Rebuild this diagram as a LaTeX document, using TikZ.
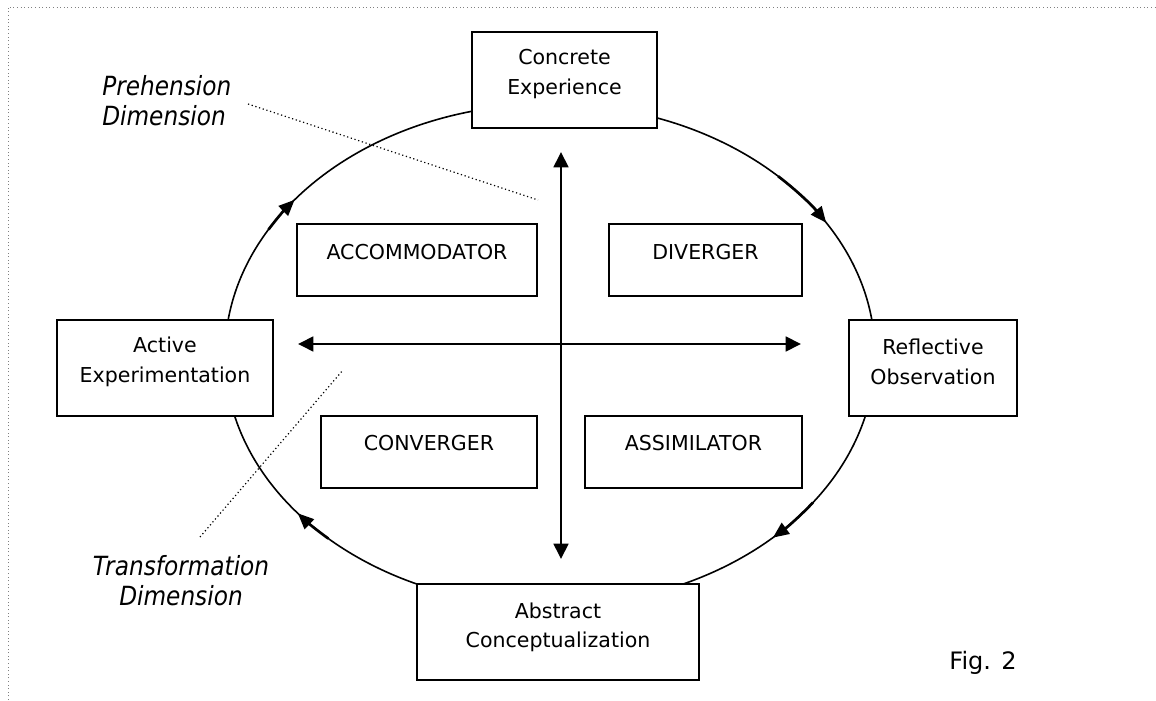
\documentclass[tikz,border=0pt]{standalone}
\usepackage{fontspec}
\setmainfont{DejaVu Sans}
\newfontfamily\dimfont[FakeStretch=0.88]{DejaVu Sans}
\usetikzlibrary{arrows.meta,calc}
\begin{document}
\begin{tikzpicture}[x=0.75pt,y=0.75pt,
  box/.style={draw=black, line width=1.2pt, fill=white, inner sep=0pt},
  boxtext/.style={font=\fontsize{15.4}{22}\selectfont, align=center, inner sep=0pt},
  axisline/.style={line width=2pt, {Triangle[length=11.5pt,width=11pt]}-{Triangle[length=11.5pt,width=11pt]}},
  cyc/.style={line width=1.2pt},
  cycarrow/.style={line width=2pt, -{Triangle[length=12pt,width=10pt]}},
  leader/.style={line width=0.9pt, dotted},
  dimlabel/.style={font=\dimfont\itshape\fontsize{19.8}{22.5}\selectfont, inner sep=0pt},
  figlabel/.style={font=\fontsize{18}{22}\selectfont, inner sep=0pt}
]
\useasboundingbox (0,0) rectangle (1156,700);
% frame
\draw[gray, line width=0.7pt, dotted] (8,0) -- (8,693) -- (1156,693);

% cycle ellipse
\coordinate (E) at (550,345);
\draw[cyc] (E) ellipse [x radius=243.75pt, y radius=188.25pt];
\draw[cycarrow] ($(E)+({325*cos(150)},{251*sin(150)})$) arc [start angle=150, end angle=141.8, x radius=243.75pt, y radius=188.25pt];
\draw[cycarrow] ($(E)+({325*cos(45.4)},{251*sin(45.4)})$) arc [start angle=45.4, end angle=31.8, x radius=243.75pt, y radius=188.25pt];
\draw[cycarrow] ($(E)+({325*cos(-36)},{251*sin(-36)})$) arc [start angle=-36, end angle=-46.7, x radius=243.75pt, y radius=188.25pt];
\draw[cycarrow] ($(E)+({325*cos(-133)},{251*sin(-133)})$) arc [start angle=-133, end angle=-140.9, x radius=243.75pt, y radius=188.25pt];

% mode boxes
\node[box, minimum width=138.75pt, minimum height=72pt] (ce) at (564.5,620) {};
\node[boxtext] (ceT) at (564.5,626) {Concrete\\Experience};
\node[box, minimum width=162pt, minimum height=72pt] (ae) at (165,332) {};
\node[boxtext] (aeT) at (165,338) {Active\\Experimentation};
\node[box, minimum width=126pt, minimum height=72pt] (ro) at (933,332) {};
\node[boxtext] (roT) at (933,338) {Reflective\\Observation};
\node[box, minimum width=211.5pt, minimum height=72pt] (ac) at (558,68) {};
\node[boxtext] (acT) at (558,73) {Abstract\\Conceptualization};

% style boxes
\node[box, minimum width=180pt, minimum height=54pt] (acc) at (417,440) {};
\node[boxtext] (accT) at (417,448) {ACCOMMODATOR};
\node[box, minimum width=144.75pt, minimum height=54pt] (div) at (705.5,440) {};
\node[boxtext] (divT) at (705.5,448) {DIVERGER};
\node[box, minimum width=162pt, minimum height=54pt] (con) at (429,248) {};
\node[boxtext] (conT) at (429,257) {CONVERGER};
\node[box, minimum width=162.75pt, minimum height=54pt] (ass) at (693.5,248) {};
\node[boxtext] (assT) at (693.5,257) {ASSIMILATOR};

% axes
\coordinate (vt) at (561,548);
\coordinate (vb) at (561,141);
\coordinate (hl) at (298,356);
\coordinate (hr) at (801,356);
\draw[axisline] (vt) -- (vb);
\draw[axisline] (hl) -- (hr);

% dimension labels
\node[dimlabel, align=left, anchor=west] (pre) at (102,599) {Prehension\\Dimension};
\node[dimlabel, align=center] (tra) at (181,119.5) {Transformation\\Dimension};
\coordinate (p1) at (248,596);
\coordinate (p2) at (538,500);
\coordinate (t1) at (200,163);
\coordinate (t2) at (343,330);
\draw[leader] (p1) -- (p2);
\draw[leader] (t1) -- (t2);

\node[figlabel] (fig) at (983,37) {Fig. 2};
\end{tikzpicture}
\end{document}
